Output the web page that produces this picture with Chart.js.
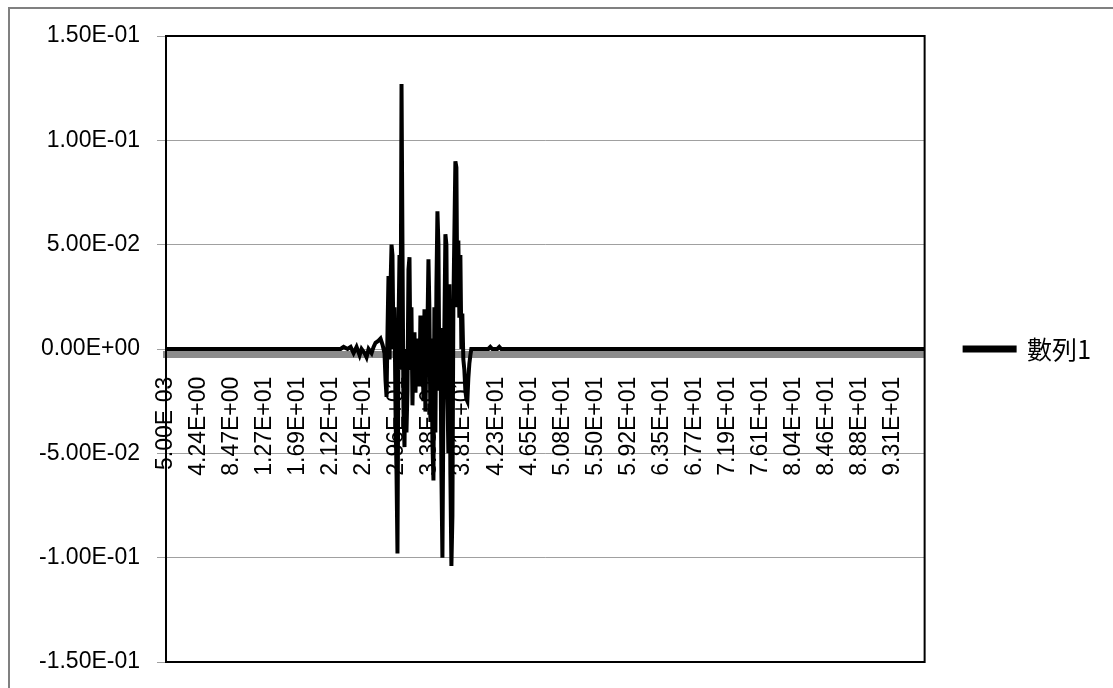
<!DOCTYPE html>
<html>
<head>
<meta charset="utf-8">
<script src="https://cdn.jsdelivr.net/npm/chart.js@4.4.1/dist/chart.umd.min.js"></script>
<style>
  html, body { margin: 0; padding: 0; background: #ffffff; }
  .frame { position: absolute; left: 8px; top: 7px; width: 1105px; height: 681px; border-left: 2px solid #808080; border-top: 2px solid #808080; box-sizing: border-box; }
  .wrap { position: absolute; left: 0; top: 0; width: 1113px; height: 688px; }
</style>
</head>
<body>
<div class="frame"></div>
<div class="wrap"><canvas id="chart-wave"></canvas></div>
<script>
const SERIES_NAME = "數列1";

// time (s) and response values; flat zero outside the burst
const X_VALUES = [
  0.005, 22.38, 22.76, 23.27, 23.66, 24.04, 24.42, 24.81, 25.06, 25.45, 25.70, 25.96,
  26.34, 26.60, 26.85, 27.24, 27.49, 27.75, 28.00, 28.13, 28.26, 28.39, 28.51, 28.64,
  28.77, 28.90, 29.02, 29.15, 29.28, 29.41, 29.54, 29.66, 29.79, 29.92, 30.05, 30.18,
  30.30, 30.43, 30.56, 30.69, 30.81, 30.94, 31.07, 31.20, 31.33, 31.45, 31.58, 31.71,
  31.84, 31.97, 32.09, 32.22, 32.35, 32.48, 32.60, 32.73, 32.86, 32.99, 33.12, 33.24,
  33.37, 33.50, 33.63, 33.75, 33.88, 34.01, 34.14, 34.27, 34.39, 34.52, 34.65, 34.78,
  34.91, 35.03, 35.16, 35.29, 35.42, 35.54, 35.67, 35.80, 35.93, 36.06, 36.18, 36.31,
  36.44, 36.57, 36.70, 36.82, 36.95, 37.08, 37.21, 37.33, 37.46, 37.59, 37.72, 37.85,
  37.97, 38.10, 38.23, 38.36, 38.49, 38.61, 38.74, 38.87, 39.00, 39.12, 39.38, 41.30,
  41.56, 41.81, 42.45, 42.71, 42.96, 97.2,
];
const Y_VALUES = [
  0, 0, 0.001, 0, 0.001, -0.002, 0.001, -0.003, 0, -0.002, -0.004, 0,
  -0.002, 0.001, 0.003, 0.004, 0.005, 0.002, -0.002, -0.015, -0.023, 0.010, 0.035, -0.005,
  0.030, 0.050, 0.045, 0, 0.020, -0.030, -0.060, -0.098, 0.010, 0.045, -0.010, 0.127,
  0.050, -0.030, -0.047, 0, -0.040, -0.020, 0.038, 0.044, -0.010, 0.020, -0.027, 0,
  0.008, -0.021, 0.005, -0.015, 0, -0.018, 0.016, -0.010, 0.005, -0.025, 0.019, -0.030,
  0, 0.010, 0.043, 0.020, -0.035, 0.005, -0.045, -0.063, 0.020, -0.040, 0.030, 0.066,
  0.050, -0.020, 0.010, -0.060, -0.100, -0.030, 0.010, 0.055, 0.050, -0.020, -0.050, 0.031,
  -0.060, -0.104, -0.080, 0.020, 0.055, 0.090, 0.087, 0.020, 0.052, 0.015, 0.045, 0,
  0.017, -0.005, -0.010, -0.020, -0.024, -0.025, -0.014, -0.007, -0.003, 0, 0, 0,
  0.001, 0, 0, 0.001, 0, 0,
];

const X_TICK_VALUES = [
  0.005, 4.235, 8.465, 12.695, 16.925, 21.155, 25.385, 29.615, 33.845, 38.075, 42.305, 46.535,
  50.765, 54.995, 59.225, 63.455, 67.685, 71.915, 76.145, 80.375, 84.605, 88.835, 93.065,
];
const X_TICK_LABELS = [
  "5.00E-03", "4.24E+00", "8.47E+00", "1.27E+01", "1.69E+01", "2.12E+01", "2.54E+01", "2.96E+01",
  "3.38E+01", "3.81E+01", "4.23E+01", "4.65E+01", "5.08E+01", "5.50E+01", "5.92E+01", "6.35E+01",
  "6.77E+01", "7.19E+01", "7.61E+01", "8.04E+01", "8.46E+01", "8.88E+01", "9.31E+01",
];
const Y_TICKS = [-0.15, -0.1, -0.05, 0, 0.05, 0.1, 0.15];

const FONT = { family: "'Liberation Sans', Arial, sans-serif", size: 23 };

function sci(v) {
  if (v === 0) return "0.00E+00";
  const [m, e] = v.toExponential(2).split("e");
  const n = parseInt(e, 10);
  return m + "E" + (n < 0 ? "-" : "+") + String(Math.abs(n)).padStart(2, "0");
}

const plotFrame = {
  id: "plotFrame",
  beforeDatasetsDraw(chart) {
    const { ctx, chartArea: a } = chart;
    ctx.save();
    ctx.strokeStyle = "#000000";
    ctx.lineWidth = 2;
    ctx.strokeRect(a.left, a.top, a.right - a.left, a.bottom - a.top);
    ctx.restore();
  },
};

new Chart(document.getElementById("chart-wave"), {
  type: "line",
  data: {
    datasets: [{
      label: SERIES_NAME,
      data: X_VALUES.map((x, i) => ({ x, y: Y_VALUES[i] })),
      borderColor: "#000000",
      backgroundColor: "#000000",
      borderWidth: 4,
      pointRadius: 0,
      tension: 0,
    }],
  },
  options: {
    responsive: true,
    maintainAspectRatio: false,
    animation: false,
    layout: { padding: { left: 22, top: 36, bottom: 26, right: 12 } },
    scales: {
      x: {
        type: "linear",
        min: 0.005,
        max: 97.2,
        position: { y: -0.0027 },
        afterBuildTicks: (s) => { s.ticks = X_TICK_VALUES.map((v) => ({ value: v })); },
        ticks: {
          autoSkip: false,
          minRotation: 90,
          maxRotation: 90,
          padding: 22,
          color: "#000000",
          font: FONT,
          callback: (v, i) => X_TICK_LABELS[i],
        },
        grid: { display: false, drawTicks: false },
        border: { display: true, color: "#8c8c8c", width: 7 },
      },
      y: {
        min: -0.15,
        max: 0.15,
        afterBuildTicks: (s) => { s.ticks = Y_TICKS.map((v) => ({ value: v })); },
        afterFit: (s) => { s.paddingTop = 0; s.paddingBottom = 0; },
        ticks: { padding: 17, color: "#000000", font: FONT, callback: (v) => sci(v) },
        grid: { color: "#a0a0a0", lineWidth: 1, tickLength: 9, tickColor: "#a0a0a0" },
        border: { display: true, color: "#000000", width: 2 },
      },
    },
    plugins: {
      legend: {
        position: "right",
        labels: {
          boxWidth: 50,
          boxHeight: 3,
          padding: 40,
          color: "#000000",
          font: { family: "'Noto Sans CJK TC', 'Liberation Sans', sans-serif", size: 25 },
        },
      },
      tooltip: { enabled: false },
    },
  },
  plugins: [plotFrame],
});
</script>
</body>
</html>
